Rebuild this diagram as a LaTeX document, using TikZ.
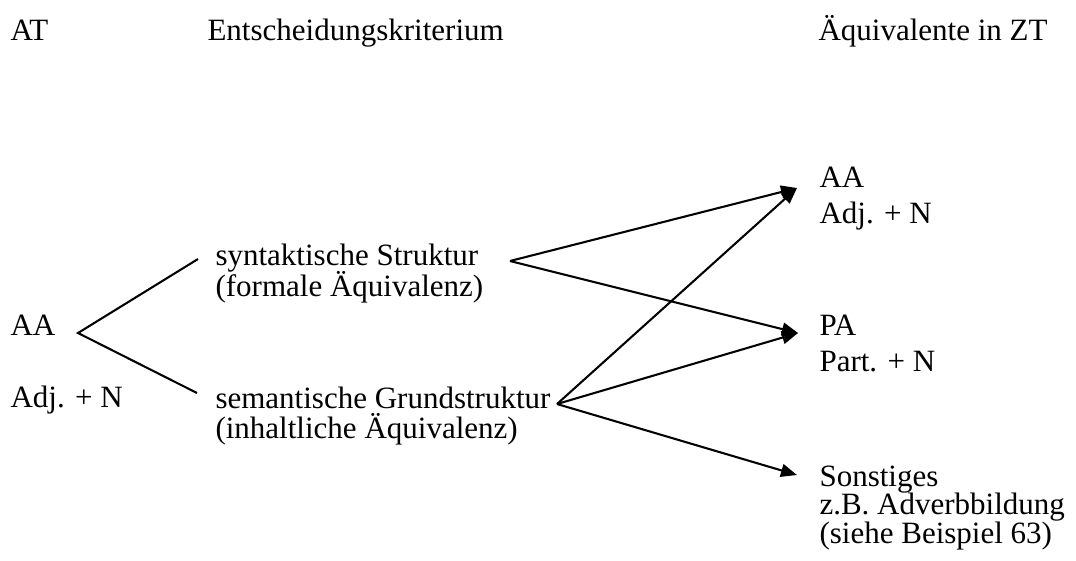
\documentclass[tikz,border=0pt]{standalone}
\usepackage{fontspec}
\setmainfont{Liberation Serif}
\usetikzlibrary{arrows.meta}

% 12pt text, fixed line distance
\newcommand\lblfont[1]{\fontsize{12}{#1}\selectfont\setlength{\lineskiplimit}{-100pt}}

\tikzset{
	lbl/.style={anchor=base west, inner sep=0pt, align=left, font=\lblfont{#1}},
	lbl/.default=12,
	branch/.style={line width=0.8pt},
	arr/.style={branch, -{Triangle[length=6.2pt, width=5pt]}}
}

\begin{document}
\begin{tikzpicture}[x=0.387pt, y=-0.387pt]
	\useasboundingbox (0,0) rectangle (1076,560);
	
	% column heads
	\node[lbl] (at) at (10,40) {AT};
	\node[lbl] (krit) at (207,40) {Entscheidungskriterium};
	\node[lbl] (zt) at (818,40) {Äquivalente in ZT};
	
	% source side (base = last line)
	\node[lbl] (aa) at (10,335) {AA};
	\node[lbl] (adj) at (10,407) {Adj. + N};
	\node[lbl] (syn) at (215,296) {syntaktische Struktur\\(formale Äquivalenz)};
	\node[lbl=11.6] (sem) at (215,438) {semantische Grundstruktur\\(inhaltliche Äquivalenz)};
	
	% target side
	\node[lbl=13.9] (zaa) at (819,223) {AA\\Adj. + N};
	\node[lbl=13.9] (zpa) at (819,371) {PA\\Part. + N};
	\node[lbl=11] (zso) at (819,543) {Sonstiges\\z.B. Adverbbildung\\(siehe Beispiel 63)};
	
	\coordinate (aa-v) at (78,333);
	\coordinate (syn-in) at (198,259);
	\coordinate (sem-in) at (197,393);
	\coordinate (syn-out) at (510,261);
	\coordinate (sem-out) at (557,404);
	\coordinate (t-aa) at (797,188);
	\coordinate (t-pa) at (798,333);
	\coordinate (t-so) at (797,475);
	
	\draw[branch] (syn-in) -- (aa-v) -- (sem-in);
	\foreach \a/\b in {syn-out/t-aa, syn-out/t-pa, sem-out/t-aa, sem-out/t-pa, sem-out/t-so}
	{
		\draw[arr] (\a) -- (\b);
	}
\end{tikzpicture}
\end{document}
